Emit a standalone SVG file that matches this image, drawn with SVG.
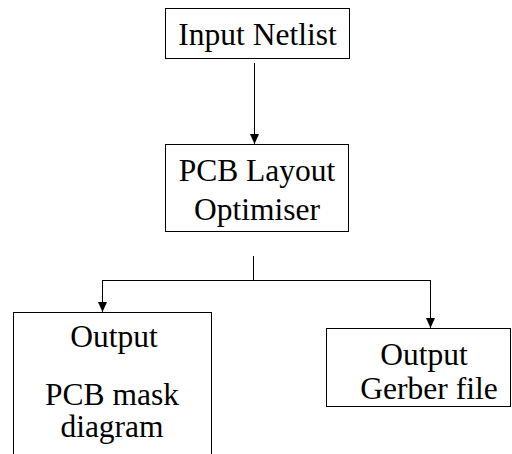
<svg xmlns="http://www.w3.org/2000/svg" width="512" height="454" viewBox="0 0 512 454">
<defs>
<style>
.box{fill:#fff;stroke:#000;stroke-width:1}
.t{font-family:"Liberation Serif","Times New Roman",serif;font-size:31.5px;fill:#000;text-anchor:middle}
.c{fill:none;stroke:#000;stroke-width:1}
</style>
<marker id="ah" viewBox="0 0 10 9" refX="10" refY="4.5" markerWidth="10" markerHeight="9" markerUnits="userSpaceOnUse" orient="auto">
<path d="M0,0 L10,4.5 L0,9 z" fill="#000"/>
</marker>
</defs>
<rect width="512" height="454" fill="#fff"/>
<g id="connectors">
<line class="c" x1="254.5" y1="63" x2="254.5" y2="144" marker-end="url(#ah)"/>
<line class="c" x1="253.5" y1="256" x2="253.5" y2="280.5"/>
<line class="c" x1="102.5" y1="280.5" x2="430.5" y2="280.5"/>
<line class="c" x1="102.5" y1="280" x2="102.5" y2="312" marker-end="url(#ah)"/>
<line class="c" x1="430.5" y1="280" x2="430.5" y2="328" marker-end="url(#ah)"/>
</g>
<g id="input-netlist">
<rect class="box" x="165.5" y="8.5" width="184" height="50"/>
<text class="t" x="257.5" y="45">Input Netlist</text>
</g>
<g id="pcb-layout-optimiser">
<rect class="box" x="165.5" y="144.5" width="183" height="87"/>
<text class="t" x="257" y="181">PCB Layout</text>
<text class="t" x="257" y="220">Optimiser</text>
</g>
<g id="output-pcb-mask">
<rect class="box" x="13.5" y="312.5" width="198" height="160"/>
<text class="t" x="114" y="347">Output</text>
<text class="t" x="112" y="405">PCB mask</text>
<text class="t" x="112" y="437">diagram</text>
</g>
<g id="output-gerber">
<rect class="box" x="326.5" y="328.5" width="184" height="78"/>
<text class="t" x="424" y="365">Output</text>
<text class="t" x="429" y="399">Gerber file</text>
</g>
</svg>
